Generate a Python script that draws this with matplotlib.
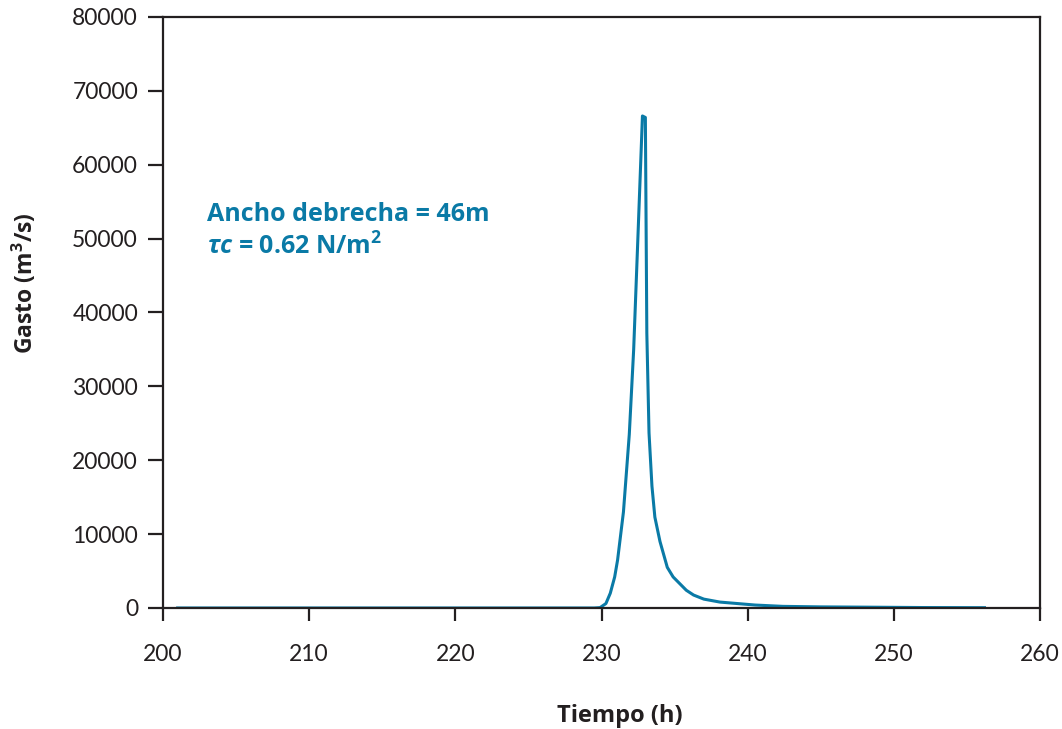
import matplotlib
matplotlib.use("Agg")
import matplotlib.pyplot as plt

# hidrograma de salida por la brecha
tiempo = [201.0, 210.0, 220.0, 229.5, 229.9, 230.3, 230.6, 230.9, 231.1, 231.5,
          231.9, 232.2, 232.5, 232.8, 233.0, 233.1, 233.25, 233.45, 233.65, 234.0,
          234.5, 234.9, 235.8, 236.3, 237.0, 238.1, 239.0, 240.5, 242.4, 245.0,
          249.0, 252.0, 256.2]
gasto = [0, 0, 0, 0, 50, 600, 2000, 4200, 6500, 13000,
         23500, 35000, 50700, 66600, 66400, 37200, 23700, 16500, 12300, 9000,
         5500, 4200, 2400, 1750, 1200, 800, 650, 400, 220, 150,
         100, 60, 40]

x_ticks = [200, 210, 220, 230, 240, 250, 260]
y_ticks = [0, 10000, 20000, 30000, 40000, 50000, 60000, 70000, 80000]

azul = "#0a7aa6"
negro = "#231f20"
bold_font = ["Open Sans", "DejaVu Sans"]

plt.rcParams["font.family"] = ["Lato", "DejaVu Sans"]
plt.rcParams["mathtext.fontset"] = "custom"
plt.rcParams["mathtext.rm"] = "Open Sans:bold"
plt.rcParams["mathtext.it"] = "Open Sans:italic:bold"
plt.rcParams["mathtext.bf"] = "Open Sans:bold"

fig = plt.figure(figsize=(10.62, 7.29), dpi=100)
ax = fig.add_axes([0.1535, 0.166, 0.8258, 0.8107])

ax.plot(tiempo, gasto, color=azul, lw=2.2)

ax.set_xlim(200, 260)
ax.set_ylim(0, 80000)
ax.set_xticks(x_ticks)
ax.set_yticks(y_ticks)

for s in ax.spines.values():
    s.set_linewidth(1.6)
    s.set_color(negro)
ax.tick_params(axis="x", direction="out", length=9, width=1.6, pad=17,
               labelsize=16.5, colors=negro)
ax.tick_params(axis="y", direction="out", length=11, width=1.6, pad=7,
               labelsize=16.5, colors=negro)

ax.set_xlabel("Tiempo (h)", fontsize=17, fontweight="bold", color=negro,
              family=bold_font)
ax.xaxis.set_label_coords(0.521, -0.163)
ax.set_ylabel(r"Gasto (m$^{3}$/s)", fontsize=16.5, fontweight="bold", color=negro,
              family=bold_font)
ax.yaxis.set_label_coords(-0.142, 0.55)

ax.text(0.05, 0.665, "Ancho debrecha = 46m", transform=ax.transAxes,
        fontsize=18, fontweight="bold", color=azul, va="center", family=bold_font)
ax.text(0.05, 0.61, r"$\tau\mathit{c}$ = 0.62 N/m$^{2}$", transform=ax.transAxes,
        fontsize=18, fontweight="bold", color=azul, va="center", family=bold_font)

fig.savefig("out.png", dpi=100)
